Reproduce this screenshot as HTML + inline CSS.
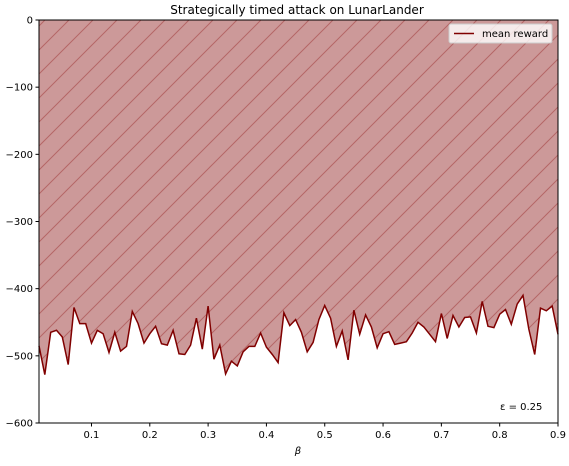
<!DOCTYPE html>
<html><head><meta charset="utf-8"><style>
body{margin:0;background:#fff;font-family:"Liberation Sans","DejaVu Sans",sans-serif}
svg text{font-family:"DejaVu Sans","Liberation Sans",sans-serif;font-size:10px;fill:#000}
</style></head><body>
<svg id="chart" width="569" height="461" xmlns="http://www.w3.org/2000/svg">
<defs><pattern id="hatch" patternUnits="userSpaceOnUse" x="17" y="0" width="24" height="24">
<path d="M-6,6 L6,-6 M0,24 L24,0 M18,30 L30,18" stroke="#b56666" stroke-width="1"/></pattern></defs>
<text x="297" y="14" text-anchor="middle" style="font-size:12px">Strategically timed attack on LunarLander</text>
<g id="plot"></g>
</svg>
<script>
const betas=[];for(let i=1;i<=90;i++)betas.push(i/100);
const rewards=[-485,-528,-465,-462,-472,-513,-428,-452,-452,-481,-462,-467,-495,-465,-493,-486,-434,-452,-481,-467,-456,-482,-484,-462,-497,-498,-484,-444,-490,-426,-505,-484,-527,-508,-515,-494,-486,-486,-466,-487,-498,-510,-436,-455,-446,-465,-494,-480,-446,-425,-444,-486,-463,-506,-432,-468,-439,-457,-488,-467,-464,-483,-481,-479,-466,-450,-457,-468,-479,-437,-474,-440,-457,-443,-442,-466,-419,-456,-458,-438,-431,-453,-423,-410,-460,-498,-429,-433,-426,-468];
const xTicks=[0.1,0.2,0.3,0.4,0.5,0.6,0.7,0.8,0.9];
const yTicks=[0,-100,-200,-300,-400,-500,-600];
const L=39,R=558,T=20,B=423;
const X=v=>L+(v-0.01)/(0.9-0.01)*(R-L);
const Y=v=>T+(0-v)/600*(B-T);
const NS='http://www.w3.org/2000/svg';
const g=document.getElementById('plot');
function mk(t,a){const e=document.createElementNS(NS,t);for(const k in a)e.setAttribute(k,a[k]);g.appendChild(e);return e;}
let pts=betas.map((b,i)=>X(b).toFixed(1)+','+Y(rewards[i]).toFixed(1));
let area=mk('polygon',{points:X(betas[0])+','+Y(0)+' '+pts.join(' ')+' '+X(betas[89])+','+Y(0),fill:'#cc9999'});


let hat=mk('polygon',{points:X(betas[0])+','+Y(0)+' '+pts.join(' ')+' '+X(betas[89])+','+Y(0),fill:'url(#hatch)'});


let line=mk('polyline',{points:pts.join(' '),fill:'none',stroke:'#800000','stroke-width':1.5});


let fr=mk('rect',{x:L,y:T,width:R-L,height:B-T,fill:'none',stroke:'#000','stroke-width':1});


xTicks.forEach(v=>{const x=X(v);
 let t=mk('line',{x1:x,x2:x,y1:B,y2:B+3.5,stroke:'#000'});
 
 
 let l=mk('text',{x:x,y:B+15,'text-anchor':'middle'});l.textContent=v.toFixed(1);
 
 });
yTicks.forEach(v=>{const y=Y(v);
 let t=mk('line',{x1:L-3.5,x2:L,y1:y,y2:y,stroke:'#000'});
 
 
 let l=mk('text',{x:L-6,y:y+3.5,'text-anchor':'end'});l.textContent=v===0?'0':'\u2212'+Math.abs(v);
 
 });
let xl=mk('text',{x:298,y:454,'text-anchor':'middle','font-style':'italic'});xl.textContent='β';


let eps=mk('text',{x:500,y:410});eps.textContent='ε = 0.25';


let lg=mk('rect',{x:449,y:24,width:103,height:19,fill:'#fff','fill-opacity':0.8,stroke:'#ccc',rx:2});


let ll=mk('line',{x1:454,x2:474,y1:33.5,y2:33.5,stroke:'#800000','stroke-width':1.5});


let lt=mk('text',{x:482,y:37});lt.textContent='mean reward';


</script>
</body></html>
